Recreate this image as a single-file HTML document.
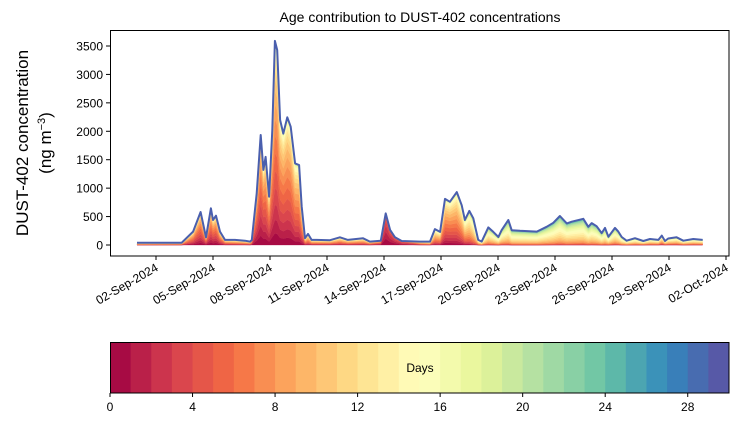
<!DOCTYPE html>
<html><head><meta charset="utf-8"><style>
body{margin:0;background:#fff;}
svg{display:block;font-family:"Liberation Sans",sans-serif;}
</style></head><body>
<svg id="c" width="739" height="425" viewBox="0 0 739 425" xmlns="http://www.w3.org/2000/svg">
<text x="420" y="22" text-anchor="middle" font-size="14">Age contribution to DUST-402 concentrations</text>
<g>
<text transform="translate(28,143) rotate(-90)" text-anchor="middle" font-size="17">DUST-402 concentration</text>
<text transform="translate(51,143) rotate(-90)" text-anchor="middle" font-size="17">(ng m<tspan baseline-shift="super" font-size="11">−3</tspan>)</text>
</g>
<g id="plot"></g>
<g id="cbar"></g>
</svg>
<script>
const days=[1.0,3.35,3.95,4.35,4.63,4.89,5.0,5.16,5.37,5.63,6.16,6.68,6.95,7.04,7.3,7.51,7.65,7.77,7.95,8.12,8.26,8.38,8.53,8.7,8.91,9.09,9.32,9.53,9.67,9.84,10.0,10.19,10.46,11.16,11.68,12.1,12.9,13.26,13.83,14.09,14.32,14.58,14.93,15.89,16.42,16.68,16.95,17.21,17.47,17.83,18.09,18.26,18.49,18.7,18.96,19.14,19.49,19.75,20.02,20.19,20.54,20.72,21.16,22.04,22.56,22.91,23.26,23.62,23.88,24.49,24.75,24.93,25.19,25.46,25.63,25.81,26.16,26.33,26.51,26.77,27.21,27.65,28.0,28.44,28.62,28.79,28.96,29.4,29.75,30.28,30.77];
const totals=[40,40,235,580,135,645,440,515,235,90,90,75,60,88,910,1935,1320,1550,850,2020,3590,3430,2200,1960,2245,2080,1435,1405,675,120,195,90,90,85,135,90,118,60,75,555,265,135,70,60,60,280,230,810,760,930,700,440,600,470,90,60,310,230,140,260,440,260,250,235,320,390,510,380,410,460,320,385,330,210,300,145,300,235,140,75,120,70,105,90,165,70,115,135,75,105,90];
const meanAge=[9,8,5,4,4,4,4,4,5,6,7,7,7,5,3,3,3,4,4,4,5,5,5,5,5,5,6,6,6,7,7,7,7,7,7,7,7,7,3,1,1,1,2,7,9,8,8,6,6,7,8,9,10,11,11,12,13,13,13,13,14,14,14,14,14,14,14,14,14,14,14,14,14,14,14,13,13,13,13,12,12,11,11,11,10,10,11,11,11,11,11];
const yTicks=[0,500,1000,1500,2000,2500,3000,3500];
const xTickDays=[2,5,8,11,14,17,20,23,26,29,32];
const xTickLabels=["02-Sep-2024","05-Sep-2024","08-Sep-2024","11-Sep-2024","14-Sep-2024","17-Sep-2024","20-Sep-2024","23-Sep-2024","26-Sep-2024","29-Sep-2024","02-Oct-2024"];
const cbTicks=[0,4,8,12,16,20,24,28];
const NL=30;
const NS="http://www.w3.org/2000/svg";
const X=d=>156+(d-2)*19.0;
const Y=v=>245-v*0.05686;
const spec=["#9e0142","#d53e4f","#f46d43","#fdae61","#fee08b","#ffffbf","#e6f598","#abdda4","#66c2a5","#3288bd","#5e4fa2"];
function h2r(h){return [1,3,5].map(i=>parseInt(h.substr(i,2),16));}
function cmap(t){const p=t*10,i=Math.min(9,Math.floor(p)),f=p-i,a=h2r(spec[i]),b=h2r(spec[i+1]);return "rgb("+a.map((v,j)=>Math.round(v+(b[j]-v)*f)).join(",")+")";}
function mk(tag,attrs,parent){const e=document.createElementNS(NS,tag);for(const k in attrs)e.setAttribute(k,attrs[k]);parent.appendChild(e);return e;}
const plot=document.getElementById('plot');
const cum=days.map(()=>0);
const shares=days.map((d,i)=>{const w=[];let s=0;const sg=meanAge[i]<3?2.5:5.5;for(let k=0;k<NL;k++){const v=Math.exp(-Math.pow(k-meanAge[i],2)/(2*sg*sg));w.push(v);s+=v;}return w.map(v=>v/s);});
for(let k=0;k<NL;k++){
  const lo=cum.slice();
  for(let i=0;i<days.length;i++)cum[i]+=totals[i]*shares[i][k];
  let d="M"+days.map((dd,i)=>X(dd).toFixed(1)+","+Y(cum[i]).toFixed(1)).join("L");
  for(let i=days.length-1;i>=0;i--)d+="L"+X(days[i]).toFixed(1)+","+Y(lo[i]).toFixed(1);
  const p=mk('path',{d:d+"Z",fill:cmap((k+0.5)/NL),stroke:cmap((k+0.5)/NL),'stroke-width':0.3},plot);
  
  
}
const ln=mk('path',{d:"M"+days.map((dd,i)=>X(dd).toFixed(1)+","+Y(totals[i]).toFixed(1)).join("L"),fill:"none",stroke:"#4a5fae",'stroke-width':2,'stroke-linejoin':'round'},plot);


const fr=mk('rect',{x:110.5,y:30.5,width:618.5,height:225.5,fill:'none',stroke:'#000','stroke-width':1},plot);


yTicks.forEach(v=>{
  const g=mk('g',{},plot);
  
  
  mk('line',{x1:106,x2:110,y1:Y(v),y2:Y(v),stroke:'#000'},g);
  const t=mk('text',{x:103,y:Y(v)+4.5,'text-anchor':'end','font-size':12},g);t.textContent=v;
});
xTickDays.forEach((d,i)=>{
  const g=mk('g',{},plot);
  
  
  mk('line',{x1:X(d),x2:X(d),y1:256,y2:260,stroke:'#000'},g);
  const t=mk('text',{transform:"translate("+(X(d)+3)+",270) rotate(-30)",'text-anchor':'end','font-size':12},g);t.textContent=xTickLabels[i];
});
const cb=document.getElementById('cbar');
const cx0=110,cx1=729,cw=(cx1-cx0)/NL;
for(let k=0;k<NL;k++){
  const r=mk('rect',{x:cx0+k*cw,y:342,width:cw+0.5,height:51,fill:cmap((k+0.5)/NL)},cb);
  
  
}
mk('rect',{x:110.5,y:342.5,width:618.5,height:50.5,fill:'none',stroke:'#000'},cb);
const dl=mk('text',{x:420,y:372,'text-anchor':'middle','font-size':12},cb);dl.textContent="Days";


cbTicks.forEach(v=>{
  const g=mk('g',{},cb);
  
  
  const x=cx0+v*cw;
  mk('line',{x1:x,x2:x,y1:393,y2:397,stroke:'#000'},g);
  const t=mk('text',{x:x,y:411,'text-anchor':'middle','font-size':12},g);t.textContent=v;
});
</script>
</body></html>
